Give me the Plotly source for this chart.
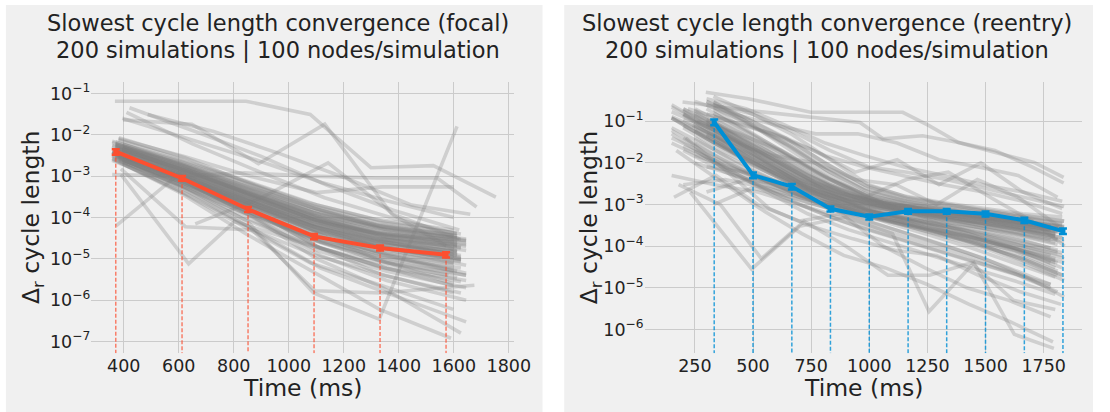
import plotly.graph_objects as go

# ---------------- focal panel data ----------------
FOCAL_MEAN_T = [371, 612, 852, 1092, 1332, 1572]
FOCAL_MEAN = [3.9e-3, 8.9e-4, 1.58e-4, 3.5e-5, 1.84e-5, 1.26e-5]
FOCAL_ERR = [6e-4, 1.2e-4, 2.2e-5, 5e-6, 2.5e-6, 1.8e-6]

FT_A = [358, 598, 838, 1078, 1318, 1598]
FT_B = [370, 610, 850, 1090, 1330, 1612]
FT_C = [382, 622, 862, 1102, 1342, 1626]
FT_D = [396, 636, 876, 1116, 1356, 1645]
FOCAL_T_SETS = {"A": FT_A, "B": FT_B, "C": FT_C, "D": FT_D}

FOCAL_BAND_KEY = list("ABCD" * 16)
FOCAL_BAND_Y = [
    [4.0e-3, 1.2e-3, 3.0e-4, 9.0e-5, 4.0e-5, 2.5e-5],
    [5.5e-3, 1.6e-3, 4.5e-4, 1.3e-4, 6.0e-5, 3.5e-5],
    [3.0e-3, 8.0e-4, 1.8e-4, 4.5e-5, 1.8e-5, 1.0e-5],
    [2.5e-3, 6.0e-4, 1.2e-4, 2.5e-5, 8.0e-6, 4.0e-6],
    [6.5e-3, 2.0e-3, 6.0e-4, 1.8e-4, 7.0e-5, 3.5e-5],
    [3.5e-3, 9.0e-4, 2.2e-4, 6.0e-5, 2.5e-5, 1.5e-5],
    [4.5e-3, 1.4e-3, 3.5e-4, 1.0e-4, 3.5e-5, 1.8e-5],
    [2.2e-3, 5.0e-4, 8.0e-5, 1.5e-5, 5.0e-6, 2.0e-6],
    [3.2e-3, 7.0e-4, 1.5e-4, 3.0e-5, 1.2e-5, 6.0e-6],
    [5.0e-3, 1.1e-3, 2.6e-4, 7.0e-5, 3.0e-5, 2.0e-5],
    [7.5e-3, 2.4e-3, 7.0e-4, 2.0e-4, 8.0e-5, 4.0e-5],
    [2.8e-3, 6.5e-4, 1.0e-4, 1.2e-5, 3.0e-6, 1.0e-6],
    [3.8e-3, 1.0e-3, 2.0e-4, 4.0e-5, 1.5e-5, 8.0e-6],
    [4.2e-3, 1.3e-3, 3.2e-4, 8.0e-5, 2.8e-5, 1.2e-5],
    [3.3e-3, 8.5e-4, 1.6e-4, 2.0e-5, 4.0e-6, 1.5e-6],
    [6.0e-3, 1.8e-3, 5.0e-4, 1.5e-4, 5.0e-5, 3.0e-5],
    [2.6e-3, 4.5e-4, 6.0e-5, 8.0e-6, 2.5e-6, 6.0e-7],
    [4.8e-3, 1.5e-3, 4.0e-4, 1.1e-4, 4.5e-5, 2.2e-5],
    [3.6e-3, 9.5e-4, 2.4e-4, 5.5e-5, 2.0e-5, 9.0e-6],
    [5.2e-3, 1.0e-3, 1.4e-4, 1.8e-5, 6.0e-6, 3.0e-6],
    [3.0e-3, 6.0e-4, 1.3e-4, 3.5e-5, 1.4e-5, 5.0e-6],
    [4.4e-3, 1.2e-3, 2.8e-4, 6.5e-5, 2.2e-5, 1.6e-5],
    [8.5e-3, 2.8e-3, 6.5e-4, 1.6e-4, 6.0e-5, 3.0e-5],
    [2.0e-3, 3.5e-4, 5.0e-5, 6.0e-6, 1.5e-6, 3.0e-7],
    [3.9e-3, 1.1e-3, 2.5e-4, 5.0e-5, 1.0e-5, 2.5e-6],
    [5.8e-3, 1.7e-3, 3.8e-4, 9.0e-5, 3.2e-5, 1.4e-5],
    [3.4e-3, 7.5e-4, 1.1e-4, 1.0e-5, 2.0e-6, 1.6e-7],
    [4.6e-3, 1.25e-3, 3.0e-4, 7.5e-5, 3.8e-5, 2.8e-5],
    [2.4e-3, 5.5e-4, 9.0e-5, 2.2e-5, 7.0e-6, 2.2e-6],
    [6.8e-3, 1.9e-3, 4.2e-4, 1.2e-4, 5.5e-5, 2.6e-5],
    [4.1e-3, 1.15e-3, 2.7e-4, 6.8e-5, 2.6e-5, 1.1e-5],
    [3.7e-3, 1.0e-3, 2.3e-4, 5.2e-5, 1.7e-5, 7.0e-6],
    [5.3e-3, 1.45e-3, 3.6e-4, 9.5e-5, 4.2e-5, 3.0e-5],
    [2.9e-3, 7.2e-4, 1.4e-4, 2.8e-5, 9.0e-6, 3.5e-6],
    [4.9e-3, 1.35e-3, 3.3e-4, 8.5e-5, 3.3e-5, 1.9e-5],
    [3.1e-3, 8.2e-4, 1.7e-4, 3.8e-5, 1.3e-5, 4.5e-6],
    [3.5e-3, 1.1e-3, 2.8e-4, 7.5e-5, 3.0e-5, 1.7e-5],
    [4.3e-3, 1.3e-3, 3.4e-4, 9.0e-5, 3.6e-5, 2.1e-5],
    [3.0e-3, 9.0e-4, 2.1e-4, 5.0e-5, 1.9e-5, 1.0e-5],
    [5.0e-3, 1.6e-3, 4.2e-4, 1.15e-4, 4.8e-5, 2.7e-5],
    [2.7e-3, 7.5e-4, 1.7e-4, 4.0e-5, 1.5e-5, 7.5e-6],
    [4.0e-3, 1.2e-3, 2.9e-4, 7.0e-5, 2.6e-5, 1.3e-5],
    [3.3e-3, 9.5e-4, 2.3e-4, 5.8e-5, 2.3e-5, 1.2e-5],
    [4.7e-3, 1.4e-3, 3.7e-4, 1.0e-4, 4.0e-5, 2.4e-5],
    [3.8e-3, 1.05e-3, 2.5e-4, 6.2e-5, 2.4e-5, 1.3e-5],
    [5.6e-3, 1.75e-3, 4.6e-4, 1.3e-4, 5.4e-5, 3.2e-5],
    [2.9e-3, 8.0e-4, 1.9e-4, 4.6e-5, 1.7e-5, 8.5e-6],
    [4.4e-3, 1.3e-3, 3.1e-4, 7.8e-5, 3.0e-5, 1.6e-5],
    [3.6e-3, 1.0e-3, 2.4e-4, 6.4e-5, 2.7e-5, 1.5e-5],
    [6.2e-3, 1.9e-3, 5.2e-4, 1.45e-4, 6.2e-5, 3.6e-5],
    [3.2e-3, 8.8e-4, 2.0e-4, 4.8e-5, 1.8e-5, 9.5e-6],
    [4.1e-3, 1.25e-3, 3.3e-4, 8.8e-5, 3.5e-5, 2.0e-5],
    [3.4e-3, 9.2e-4, 2.2e-4, 5.3e-5, 2.0e-5, 1.1e-5],
    [5.1e-3, 1.5e-3, 3.9e-4, 1.05e-4, 4.3e-5, 2.5e-5],
    [2.6e-3, 7.0e-4, 1.5e-4, 3.4e-5, 1.2e-5, 6.0e-6],
    [4.5e-3, 1.35e-3, 3.5e-4, 9.2e-5, 3.7e-5, 2.2e-5],
    [7.0e-3, 2.5e-3, 7.5e-4, 2.2e-4, 9.0e-5, 5.0e-5],
    [6.0e-3, 2.2e-3, 6.5e-4, 1.9e-4, 7.5e-5, 4.2e-5],
    [2.3e-3, 5.5e-4, 1.1e-4, 2.0e-5, 6.0e-6, 2.8e-6],
    [2.5e-3, 6.2e-4, 1.25e-4, 2.6e-5, 9.0e-6, 4.0e-6],
    [5.5e-3, 2.1e-3, 5.8e-4, 1.6e-4, 6.5e-5, 3.8e-5],
    [3.1e-3, 7.8e-4, 1.55e-4, 3.2e-5, 1.1e-5, 5.0e-6],
]

FOCAL_OUT_T = [
    [368, 845, 1078, 1299, 1526, 1753],
    [358, 600, 840, 1080, 1320, 1540, 1683],
    [421, 660, 900, 1140, 1380, 1620],
    [398, 648, 890, 1131, 1375, 1610],
    [370, 610, 850, 1090, 1329, 1612],
    [660, 900, 1143, 1380, 1620],
    [372, 612, 852, 1092, 1332, 1572],
    [390, 636, 803, 1090, 1330, 1580],
    [390, 624, 870, 1100, 1350, 1600],
    [380, 620, 860, 1100, 1340, 1600],
    [395, 640, 880, 1120, 1360, 1600],
    [410, 650, 890, 1130, 1370, 1610],
    [487, 727, 967, 1207, 1447, 1660],
    [375, 615, 855, 1095, 1335, 1675],
    [365, 605, 845, 1085, 1330, 1590],
]
FOCAL_OUT_Y = [
    [0.065, 0.065, 0.031, 1.6e-3, 1.8e-3, 3.1e-4],
    [1.1e-3, 1.0e-3, 1.2e-3, 1.0e-3, 9e-4, 9e-4, 1.8e-4],
    [0.045, 0.012, 3e-3, 6e-4, 1.5e-4, 5e-5],
    [0.023, 0.018, 2e-3, 0.018, 1.2e-4, 1.5e-5],
    [3e-3, 6e-4, 8e-5, 1.5e-6, 3.5e-7, 0.016],
    [7e-5, 3e-4, 2.1e-3, 1.2e-4, 3e-5],
    [6.3e-5, 1.3e-3, 3e-4, 8e-5, 3e-5, 2e-5],
    [1.1e-3, 7.6e-6, 8e-5, 2e-5, 8e-6, 4e-6],
    [1.5e-3, 6e-5, 5e-5, 1.2e-5, 4e-6, 1.5e-6],
    [8e-3, 3e-3, 1e-3, 4e-4, 5.5e-4, 5.5e-4],
    [0.025, 8e-3, 2.5e-3, 7e-4, 2.5e-4, 1e-4],
    [0.035, 6e-3, 1.3e-3, 3e-4, 1e-4, 4e-5],
    [0.031, 0.012, 3.5e-3, 9e-4, 2e-4, 1.2e-4],
    [3.0e-3, 5e-4, 6e-5, 1.7e-6, 1.5e-6, 2.3e-6],
    [2.5e-3, 4e-4, 4e-5, 5e-6, 6e-7, 1.2e-7],
]

# ---------------- reentry panel data ----------------
REENTRY_MEAN_T = [333, 500, 667, 833, 1000, 1167, 1333, 1500, 1667, 1833]
REENTRY_MEAN = [0.095, 5.1e-3, 2.7e-3, 7.9e-4, 5.1e-4, 6.9e-4, 6.9e-4, 6.0e-4, 4.2e-4, 2.3e-4]
REENTRY_ERR = [1.5e-2, 8e-4, 4e-4, 1.1e-4, 7e-5, 9e-5, 9e-5, 8e-5, 6e-5, 3.5e-5]

RT_A = [150, 335, 520, 700, 880, 1060, 1240, 1420, 1600, 1780]
RT_B = [200, 380, 560, 735, 910, 1090, 1265, 1440, 1620, 1800]
RT_C = [250, 425, 600, 770, 945, 1120, 1290, 1465, 1640, 1810]
RT_D = [300, 470, 640, 810, 980, 1150, 1320, 1490, 1660, 1830]
RT_E = [330, 497, 663, 830, 997, 1163, 1330, 1497, 1663, 1838]
REENTRY_T_SETS = {"A": RT_A, "B": RT_B, "C": RT_C, "D": RT_D, "E": RT_E}

REENTRY_BAND_KEY = list("ABCDE" * 13)
REENTRY_BAND_Y = [
    [0.25, 0.06, 0.015, 4e-3, 1.8e-3, 1.1e-3, 8e-4, 6e-4, 4.5e-4, 3e-4],
    [0.15, 0.03, 8e-3, 2.5e-3, 1.2e-3, 8e-4, 6e-4, 4e-4, 2.8e-4, 1.8e-4],
    [0.08, 0.02, 5e-3, 1.8e-3, 9e-4, 6e-4, 4e-4, 2.8e-4, 1.8e-4, 1.1e-4],
    [0.3, 0.1, 0.03, 8e-3, 2.5e-3, 1.3e-3, 9e-4, 7e-4, 5e-4, 3.5e-4],
    [0.05, 0.012, 4e-3, 1.5e-3, 7e-4, 4.5e-4, 3e-4, 1.8e-4, 1e-4, 5e-5],
    [0.12, 0.04, 0.012, 3.5e-3, 1.5e-3, 9e-4, 6.5e-4, 5e-4, 3.5e-4, 2.5e-4],
    [0.2, 0.05, 0.01, 2.5e-3, 1e-3, 5e-4, 3e-4, 1.5e-4, 8e-5, 3e-5],
    [0.03, 8e-3, 3e-3, 1.3e-3, 8e-4, 5e-4, 3.5e-4, 2.5e-4, 1.5e-4, 8e-5],
    [0.1, 0.025, 7e-3, 2.2e-3, 1.1e-3, 7e-4, 5e-4, 3.5e-4, 2.5e-4, 1.6e-4],
    [0.4, 0.15, 0.05, 0.012, 3e-3, 1.5e-3, 1e-3, 7e-4, 5e-4, 4e-4],
    [0.06, 0.015, 4.5e-3, 1.6e-3, 6e-4, 3e-4, 1.5e-4, 7e-5, 3e-5, 1.2e-5],
    [0.18, 0.05, 0.015, 5e-3, 2e-3, 1e-3, 7e-4, 5e-4, 3e-4, 2e-4],
    [0.01, 5e-3, 2.5e-3, 1.2e-3, 6e-4, 3.5e-4, 2e-4, 1.2e-4, 6e-5, 2.5e-5],
    [2e-3, 4e-3, 3e-3, 1.5e-3, 8e-4, 5e-4, 3e-4, 2e-4, 1.2e-4, 7e-5],
    [0.22, 0.08, 0.025, 6e-3, 2e-3, 1.2e-3, 8e-4, 5.5e-4, 4e-4, 3e-4],
    [0.07, 0.02, 6e-3, 2e-3, 1e-3, 6e-4, 3.5e-4, 2e-4, 1e-4, 4e-5],
    [0.14, 0.035, 9e-3, 3e-3, 1.4e-3, 8e-4, 5e-4, 3e-4, 2e-4, 1.2e-4],
    [0.04, 0.01, 3.5e-3, 1.4e-3, 7e-4, 4e-4, 2.2e-4, 1.2e-4, 5e-5, 2e-5],
    [0.3, 0.12, 0.04, 0.01, 3e-3, 1.6e-3, 1.1e-3, 8e-4, 6e-4, 5e-4],
    [0.09, 0.03, 0.01, 3e-3, 1.3e-3, 7e-4, 4.5e-4, 3e-4, 2e-4, 1.3e-4],
    [5e-3, 3e-3, 2e-3, 1e-3, 5e-4, 2.5e-4, 1.2e-4, 6e-5, 2.5e-5, 1e-5],
    [0.02, 6e-3, 2.5e-3, 1.1e-3, 6e-4, 3.8e-4, 2.5e-4, 1.6e-4, 9e-5, 5e-5],
    [0.16, 0.045, 0.012, 3.2e-3, 1.3e-3, 7.5e-4, 5.5e-4, 4e-4, 3e-4, 2.2e-4],
    [0.11, 0.03, 8e-3, 2.2e-3, 8e-4, 4e-4, 2e-4, 1e-4, 5e-5, 2e-5],
    [1e-3, 2.5e-3, 1.5e-3, 8e-4, 4e-4, 2e-4, 1e-4, 5e-5, 2e-5, 6e-6],
    [0.13, 0.045, 0.014, 4e-3, 1.6e-3, 1e-3, 7.5e-4, 5.5e-4, 4e-4, 2.8e-4],
    [0.2, 0.07, 0.02, 5e-3, 1.7e-3, 9e-4, 6e-4, 4.2e-4, 3e-4, 2e-4],
    [0.06, 0.018, 6e-3, 2.2e-3, 1.1e-3, 7e-4, 4.8e-4, 3.3e-4, 2.2e-4, 1.4e-4],
    [0.25, 0.09, 0.028, 7e-3, 2.2e-3, 1.2e-3, 8.5e-4, 6.5e-4, 4.8e-4, 3.3e-4],
    [0.035, 9e-3, 3.2e-3, 1.2e-3, 5.5e-4, 3e-4, 1.7e-4, 9e-5, 4e-5, 1.5e-5],
    [0.17, 0.06, 0.018, 5e-3, 1.9e-3, 1.1e-3, 7.8e-4, 5.8e-4, 4.2e-4, 2.9e-4],
    [3e-3, 4e-3, 2.5e-3, 1.3e-3, 7e-4, 4e-4, 2.4e-4, 1.4e-4, 8e-5, 4e-5],
    [0.1, 0.035, 0.011, 3.3e-3, 1.4e-3, 8.5e-4, 6e-4, 4.5e-4, 3.2e-4, 2.3e-4],
    [0.045, 0.012, 4e-3, 1.5e-3, 7.5e-4, 4.5e-4, 2.8e-4, 1.7e-4, 1e-4, 6e-5],
    [0.28, 0.1, 0.032, 8.5e-3, 2.6e-3, 1.4e-3, 1e-3, 7.5e-4, 5.5e-4, 4e-4],
    [0.12, 0.03, 9e-3, 3e-3, 1.4e-3, 9e-4, 6.5e-4, 5e-4, 3.6e-4, 2.5e-4],
    [0.08, 0.022, 7e-3, 2.4e-3, 1.2e-3, 7.5e-4, 5.5e-4, 4e-4, 2.8e-4, 1.9e-4],
    [0.18, 0.045, 0.013, 3.8e-3, 1.6e-3, 1e-3, 7e-4, 5.2e-4, 3.8e-4, 2.7e-4],
    [0.05, 0.015, 5e-3, 1.8e-3, 9.5e-4, 6.5e-4, 4.8e-4, 3.5e-4, 2.4e-4, 1.6e-4],
    [0.1, 0.028, 8.5e-3, 2.8e-3, 1.3e-3, 8.5e-4, 6.2e-4, 4.6e-4, 3.3e-4, 2.3e-4],
    [0.22, 0.06, 0.017, 4.5e-3, 1.8e-3, 1.1e-3, 7.8e-4, 5.8e-4, 4.2e-4, 3e-4],
    [0.07, 0.018, 6e-3, 2.1e-3, 1.05e-3, 7e-4, 5e-4, 3.7e-4, 2.6e-4, 1.7e-4],
    [0.14, 0.038, 0.011, 3.4e-3, 1.5e-3, 9.5e-4, 6.8e-4, 5e-4, 3.6e-4, 2.6e-4],
    [0.09, 0.025, 7.5e-3, 2.6e-3, 1.25e-3, 8e-4, 5.8e-4, 4.3e-4, 3e-4, 2.1e-4],
    [0.16, 0.05, 0.015, 4.2e-3, 1.7e-3, 1.05e-3, 7.4e-4, 5.5e-4, 4e-4, 2.9e-4],
    [0.04, 0.013, 4.5e-3, 1.7e-3, 9e-4, 6e-4, 4.4e-4, 3.2e-4, 2.2e-4, 1.4e-4],
    [0.11, 0.032, 0.01, 3.1e-3, 1.35e-3, 8.8e-4, 6.4e-4, 4.8e-4, 3.4e-4, 2.4e-4],
    [0.06, 0.017, 5.5e-3, 1.9e-3, 1e-3, 6.8e-4, 4.9e-4, 3.6e-4, 2.5e-4, 1.5e-4],
    [0.2, 0.055, 0.016, 4.4e-3, 1.75e-3, 1.08e-3, 7.6e-4, 5.6e-4, 4.1e-4, 2.9e-4],
    [0.13, 0.036, 0.0105, 3.2e-3, 1.45e-3, 9.2e-4, 6.6e-4, 4.9e-4, 3.5e-4, 2.5e-4],
    [0.03, 0.01, 3.8e-3, 1.5e-3, 8e-4, 5.2e-4, 3.6e-4, 2.5e-4, 1.6e-4, 9e-5],
    [0.025, 9e-3, 3.5e-3, 1.4e-3, 7e-4, 4.2e-4, 2.6e-4, 1.6e-4, 9e-5, 4.5e-5],
    [0.015, 7e-3, 3e-3, 1.2e-3, 6.5e-4, 4e-4, 2.4e-4, 1.5e-4, 8.5e-5, 4e-5],
    [8e-3, 6e-3, 3.2e-3, 1.3e-3, 6e-4, 3.4e-4, 1.9e-4, 1e-4, 5e-5, 2e-5],
    [0.19, 0.05, 0.014, 4e-3, 1.6e-3, 9.8e-4, 7e-4, 5.3e-4, 3.9e-4, 2.8e-4],
    [0.05, 0.01, 3e-3, 1e-3, 4e-4, 2e-4, 1e-4, 5e-5, 2.5e-5, 1.2e-5],
    [0.15, 0.04, 0.01, 2.5e-3, 8e-4, 3.5e-4, 1.8e-4, 9e-5, 4e-5, 1.8e-5],
    [0.02, 5e-3, 1.8e-3, 7e-4, 3e-4, 1.5e-4, 8e-5, 4e-5, 2e-5, 8e-6],
    [0.08, 0.02, 6e-3, 2e-3, 8e-4, 4.5e-4, 2.5e-4, 1.4e-4, 7e-5, 3e-5],
    [0.3, 0.08, 0.02, 5e-3, 1.5e-3, 6e-4, 3e-4, 1.5e-4, 8e-5, 4e-5],
    [0.12, 0.03, 8e-3, 2.5e-3, 9e-4, 5e-4, 2.8e-4, 1.8e-4, 1.1e-4, 6e-5],
    [0.04, 8e-3, 2e-3, 6e-4, 2.5e-4, 1.2e-4, 6e-5, 3e-5, 1.5e-5, 7e-6],
    [0.2, 0.06, 0.02, 6e-3, 2e-3, 8e-4, 4e-4, 2e-4, 1.2e-4, 7e-5],
    [0.35, 0.2, 0.08, 0.03, 0.015, 8e-3, 5e-3, 3e-3, 2e-3, 1.2e-3],
    [0.25, 0.15, 0.06, 0.02, 8e-3, 6e-3, 4e-3, 2.5e-3, 1.5e-3, 9e-4],
]

REENTRY_OUT_T = [
    [297, 480, 748, 1144, 1257, 1384, 1539, 1709, 1836],
    [197, 494, 960, 1059, 1229, 1384, 1540, 1700, 1836],
    [250, 420, 600, 770, 950, 1120, 1300, 1470, 1640, 1810],
    [220, 400, 580, 760, 940, 1120, 1300, 1480, 1660, 1830],
    [230, 494, 700, 900, 1100, 1257, 1450, 1624, 1794],
    [180, 360, 536, 720, 900, 1080, 1260, 1440, 1620, 1800],
    [160, 340, 520, 700, 880, 1060, 1240, 1420, 1600, 1780],
    [300, 470, 640, 810, 980, 1150, 1320, 1490, 1660, 1830],
    [260, 440, 620, 800, 980, 1160, 1340, 1520, 1700, 1840],
    [170, 350, 530, 710, 890, 1070, 1250, 1430, 1610, 1790],
    [240, 415, 590, 765, 940, 1115, 1290, 1465, 1640, 1815],
    [210, 390, 570, 750, 930, 1110, 1290, 1470, 1650, 1825],
]
REENTRY_OUT_Y = [
    [0.5, 0.35, 0.165, 0.165, 0.079, 0.031, 0.018, 0.0103, 4.5e-3],
    [0.29, 0.18, 0.094, 0.038, 0.045, 0.031, 0.02, 8e-3, 3.3e-3],
    [0.3, 0.15, 0.08, 0.05, 0.05, 0.03, 0.012, 8e-3, 5e-3, 1.5e-3],
    [0.2, 0.1, 0.05, 0.02, 6e-3, 0.012, 3e-3, 0.01, 2e-3, 8e-4],
    [2e-3, 2.8e-5, 3e-4, 5e-4, 2e-4, 2.7e-6, 4e-5, 7.6e-7, 3.5e-7],
    [3e-3, 1e-3, 5e-5, 4e-4, 1e-4, 2e-5, 2e-5, 4e-5, 5e-6, 3e-6],
    [1.5e-3, 5e-3, 1e-3, 4e-4, 6e-4, 1e-4, 3e-5, 1e-5, 5e-6, 2e-6],
    [0.15, 0.08, 0.04, 0.015, 8e-3, 5e-3, 3e-3, 2e-3, 1.2e-3, 6e-4],
    [0.1, 0.05, 0.02, 5e-3, 1.5e-3, 4e-3, 6e-3, 1.5e-3, 4e-4, 1e-4],
    [0.02, 4e-3, 8e-4, 2e-4, 6e-5, 3e-5, 1.2e-5, 4e-6, 1.5e-6, 5e-7],
    [0.08, 0.03, 0.015, 0.01, 4e-3, 3e-3, 1e-3, 4e-3, 1.5e-3, 3e-4],
    [0.04, 6e-3, 8e-4, 3e-4, 1.5e-4, 8e-5, 6e-5, 2e-5, 8e-6, 4e-6],
]

FOCAL_XTICKS = [400, 600, 800, 1000, 1200, 1400, 1600, 1800]
REENTRY_XTICKS = [250, 500, 750, 1000, 1250, 1500, 1750]
FOCAL_YTICKS = [1e-1, 1e-2, 1e-3, 1e-4, 1e-5, 1e-6, 1e-7]
FOCAL_YTEXT = ["10<sup>−1</sup>", "10<sup>−2</sup>", "10<sup>−3</sup>", "10<sup>−4</sup>",
               "10<sup>−5</sup>", "10<sup>−6</sup>", "10<sup>−7</sup>"]
REENTRY_YTICKS = [1e-1, 1e-2, 1e-3, 1e-4, 1e-5, 1e-6]
REENTRY_YTEXT = ["10<sup>−1</sup>", "10<sup>−2</sup>", "10<sup>−3</sup>", "10<sup>−4</sup>",
                 "10<sup>−5</sup>", "10<sup>−6</sup>"]

TITLE_LINE1 = ["Slowest cycle length convergence (focal)",
               "Slowest cycle length convergence (reentry)"]
TITLE_LINE2 = "200 simulations | 100 nodes/simulation"

# ---------------- styling / layout ----------------
W, H = 1110, 412
BG = "#f0f0f0"
GRID = "#cbcbcb"
GRAY_LINE = "rgba(128,128,128,0.29)"
RED = "#fc4f30"
BLUE = "#008fd5"
FONT = "DejaVu Sans"
TXT = "#222222"

FOCAL_YRANGE = [-7.28, -0.728]
REENTRY_YRANGE = [-6.57, -0.06]

fig = go.Figure()


def add_gray(xs, ys, xa, ya):
    fig.add_trace(go.Scatter(x=xs, y=ys, mode="lines", xaxis=xa, yaxis=ya,
                             line=dict(color=GRAY_LINE, width=3.6),
                             hoverinfo="skip", showlegend=False))


for k, ys in zip(FOCAL_BAND_KEY, FOCAL_BAND_Y):
    add_gray(FOCAL_T_SETS[k], ys, "x", "y")
for xs, ys in zip(FOCAL_OUT_T, FOCAL_OUT_Y):
    add_gray(xs, ys, "x", "y")
for k, ys in zip(REENTRY_BAND_KEY, REENTRY_BAND_Y):
    add_gray(REENTRY_T_SETS[k], ys, "x2", "y2")
for xs, ys in zip(REENTRY_OUT_T, REENTRY_OUT_Y):
    add_gray(xs, ys, "x2", "y2")


def add_mean(ts, ms, es, color, dashcolor, xa, ya, yrange):
    bottom = 10 ** yrange[0]
    for t, m in zip(ts, ms):
        fig.add_trace(go.Scatter(x=[t, t], y=[m, bottom], mode="lines", xaxis=xa, yaxis=ya,
                                 line=dict(color=dashcolor, width=1.5, dash="4px,2px"),
                                 hoverinfo="skip", showlegend=False, cliponaxis=True))
    fig.add_trace(go.Scatter(x=ts, y=ms, mode="lines+markers", xaxis=xa, yaxis=ya,
                             line=dict(color=color, width=4),
                             marker=dict(size=5, color=color, symbol="square"),
                             error_y=dict(type="data", array=es, visible=True,
                                          color=color, thickness=2.5, width=4),
                             showlegend=False))


add_mean(FOCAL_MEAN_T, FOCAL_MEAN, FOCAL_ERR, RED, "rgba(252,79,48,0.7)", "x", "y", FOCAL_YRANGE)
add_mean(REENTRY_MEAN_T, REENTRY_MEAN, REENTRY_ERR, BLUE, "rgba(0,143,213,0.8)", "x2", "y2", REENTRY_YRANGE)

ydom = [(H - 353) / H, (H - 81.4) / H]
axis_common = dict(showgrid=True, gridcolor=GRID, gridwidth=1.3, zeroline=False, showline=False,
                   ticks="", tickfont=dict(family=FONT, size=17.5, color=TXT))

fig.update_layout(
    width=W, height=H,
    margin=dict(l=0, r=0, t=0, b=0),
    paper_bgcolor="white", plot_bgcolor=BG,
    font=dict(family=FONT, color=TXT),
    xaxis=dict(domain=[92.7 / W, 521.7 / W], range=[282, 1818], anchor="y",
               tickvals=FOCAL_XTICKS, ticktext=[str(v) for v in FOCAL_XTICKS], **axis_common),
    yaxis=dict(domain=ydom, type="log", range=FOCAL_YRANGE, anchor="x",
               tickvals=FOCAL_YTICKS, ticktext=FOCAL_YTEXT, **axis_common),
    xaxis2=dict(domain=[654.7 / W, 1098.6 / W], range=[34, 1914], anchor="y2",
                tickvals=REENTRY_XTICKS, ticktext=[str(v) for v in REENTRY_XTICKS], **axis_common),
    yaxis2=dict(domain=ydom, type="log", range=REENTRY_YRANGE, anchor="x2",
                tickvals=REENTRY_YTICKS, ticktext=REENTRY_YTEXT, **axis_common),
    shapes=[
        dict(type="rect", xref="paper", yref="paper", x0=6 / W, x1=551 / W, y0=0, y1=(H - 4) / H,
             fillcolor=BG, line=dict(width=0), layer="below"),
        dict(type="rect", xref="paper", yref="paper", x0=573 / W, x1=1.0, y0=0, y1=(H - 4) / H,
             fillcolor=BG, line=dict(width=0), layer="below"),
    ],
)

annots = []
for cx, l1 in zip([282, 840], TITLE_LINE1):
    annots.append(dict(text=l1, x=cx / W, y=(H - 22) / H))
    annots.append(dict(text=TITLE_LINE2, x=cx / W, y=(H - 49) / H))
annots = [dict(a, xref="paper", yref="paper", showarrow=False, xanchor="center", yanchor="middle",
               font=dict(family=FONT, size=22.5, color=TXT)) for a in annots]
for cx in [307, 876.6]:
    annots.append(dict(text="Time (ms)", x=cx / W, y=(H - 388) / H, xref="paper", yref="paper",
                       showarrow=False, xanchor="center", yanchor="middle",
                       font=dict(family=FONT, size=23.5, color=TXT)))
for cx in [33, 600]:
    annots.append(dict(text="Δ<sub>r</sub> cycle length", x=cx / W, y=(H - 217) / H,
                       xref="paper", yref="paper", showarrow=False, xanchor="center",
                       yanchor="middle", textangle=-90,
                       font=dict(family=FONT, size=23.5, color=TXT)))
fig.update_layout(annotations=annots)

fig.write_html("out.html")
